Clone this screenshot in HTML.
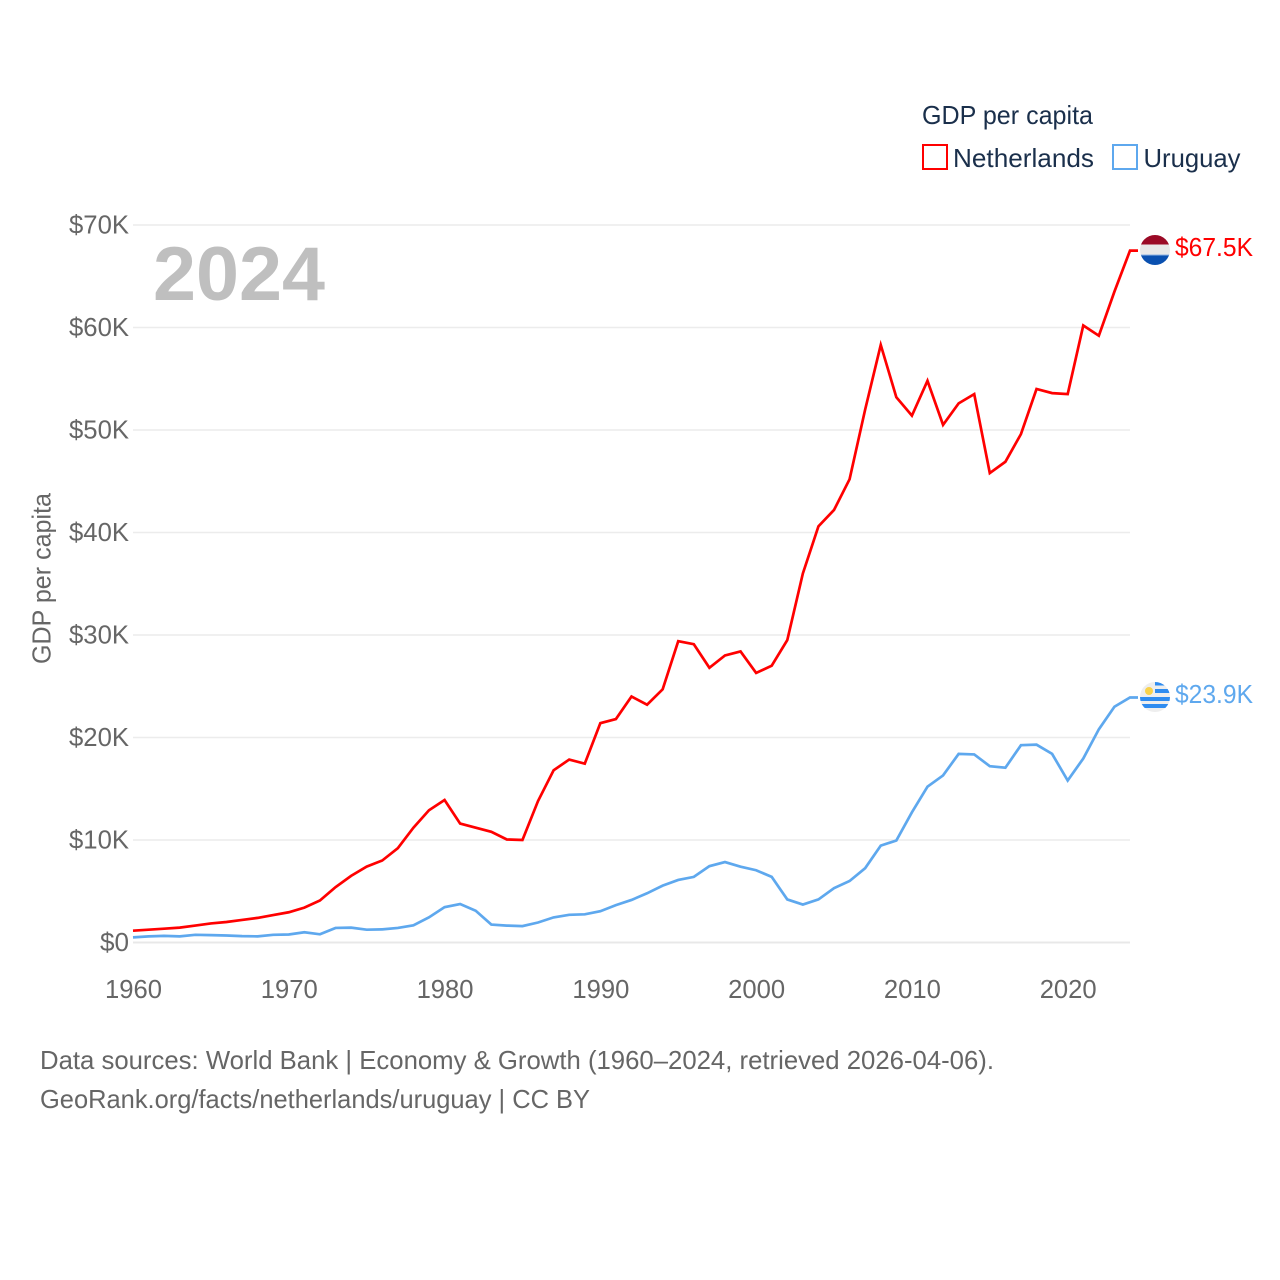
<!DOCTYPE html>
<html lang="en">
<head>
<meta charset="utf-8">
<title>GDP per capita: Netherlands vs Uruguay</title>
<style>
html,body{margin:0;padding:0;background:#fff;}
svg{display:block;font-family:"Liberation Sans",sans-serif;}
</style>
</head>
<body>
<svg id="chart" xmlns="http://www.w3.org/2000/svg" width="1280" height="1280" viewBox="0 0 1280 1280">
  <rect width="1280" height="1280" fill="#fff"/>
  <defs>
    <clipPath id="clip-nl"><circle cx="1155" cy="250" r="15"/></clipPath>
    <clipPath id="clip-uy"><circle cx="1155" cy="697" r="15"/></clipPath>
  </defs>

  <text x="922" y="124" font-size="26" fill="#1a2f4b" textLength="171" lengthAdjust="spacingAndGlyphs">GDP per capita</text>
  <g>
    <rect x="923" y="145" width="24" height="24" fill="#fff" stroke="#ff0000" stroke-width="2"/>
    <text x="953" y="167" font-size="26" fill="#1a2f4b" textLength="141" lengthAdjust="spacingAndGlyphs">Netherlands</text>
  </g>
  <g>
    <rect x="1113" y="145" width="24" height="24" fill="#fff" stroke="#5ea8ee" stroke-width="2"/>
    <text x="1143.5" y="167" font-size="26" fill="#1a2f4b" textLength="97" lengthAdjust="spacingAndGlyphs">Uruguay</text>
  </g>

  <g id="grid"></g>
  <g id="yticks"></g>
  <g id="xticks"></g>

  <text transform="translate(50.5,578.5) rotate(-90)" text-anchor="middle" font-size="26" fill="#666" textLength="171" lengthAdjust="spacingAndGlyphs">GDP per capita</text>
  <text x="153" y="300" font-size="76" font-weight="700" fill="#bfbfbf" textLength="172" lengthAdjust="spacingAndGlyphs">2024</text>

  <g id="series"></g>

  <g clip-path="url(#clip-nl)">
    <rect x="1140" y="235" width="30" height="9.5" fill="#9b0a26"/>
    <rect x="1140" y="244.5" width="30" height="10" fill="#e8e8e8"/>
    <rect x="1140" y="254.5" width="30" height="1" fill="#8fb4e4"/>
    <rect x="1140" y="255.5" width="30" height="10" fill="#0a50b0"/>
  </g>
  <text id="label-nl" x="1175" y="256" font-size="26" fill="#ff0000" textLength="78" lengthAdjust="spacingAndGlyphs">$67.5K</text>

  <g clip-path="url(#clip-uy)">
    <rect x="1140" y="682" width="30" height="30" fill="#eeeeee"/>
    <rect x="1155" y="682" width="15" height="3.5" fill="#2f8cf0"/>
    <rect x="1155" y="689" width="15" height="4" fill="#2f8cf0"/>
    <rect x="1140" y="697" width="30" height="4" fill="#2f8cf0"/>
    <rect x="1140" y="704" width="30" height="4" fill="#2f8cf0"/>
    <circle cx="1149" cy="691" r="4" fill="#f9d24a"/>
  </g>
  <text id="label-uy" x="1175" y="703" font-size="26" fill="#5ea8ee" textLength="78" lengthAdjust="spacingAndGlyphs">$23.9K</text>

  <text x="40" y="1069" font-size="26" fill="#666" textLength="954" lengthAdjust="spacingAndGlyphs">Data sources: World Bank | Economy &amp; Growth (1960–2024, retrieved 2026-04-06).</text>
  <text x="40" y="1108" font-size="26" fill="#666" textLength="550" lengthAdjust="spacingAndGlyphs">GeoRank.org/facts/netherlands/uruguay | CC BY</text>
</svg>
<script>
const startYear = 1960;
const endYear = 2024;
const yTickValues = [0, 10, 20, 30, 40, 50, 60, 70];
const yTickLabels = ["$0", "$10K", "$20K", "$30K", "$40K", "$50K", "$60K", "$70K"];
const xTickValues = [1960, 1970, 1980, 1990, 2000, 2010, 2020];
const netherlandsValues = [1.15,1.25,1.35,1.45,1.65,1.86,2.0,2.2,2.4,2.68,2.95,3.4,4.1,5.4,6.5,7.4,8.0,9.2,11.2,12.9,13.9,11.6,11.2,10.8,10.05,10.0,13.8,16.8,17.85,17.45,21.4,21.8,24.0,23.2,24.7,29.4,29.1,26.8,28.0,28.4,26.3,27.0,29.5,36.0,40.6,42.2,45.2,52.0,58.3,53.2,51.4,54.8,50.5,52.6,53.5,45.8,46.9,49.6,54.0,53.6,53.5,60.2,59.2,63.5,67.5];
const uruguayValues = [0.5,0.6,0.65,0.6,0.75,0.72,0.68,0.62,0.6,0.75,0.78,1.0,0.8,1.42,1.45,1.25,1.28,1.42,1.68,2.45,3.45,3.75,3.1,1.75,1.65,1.6,1.95,2.45,2.7,2.75,3.05,3.65,4.15,4.8,5.55,6.1,6.4,7.45,7.85,7.4,7.05,6.4,4.2,3.7,4.2,5.3,6.0,7.25,9.45,9.95,12.7,15.2,16.3,18.4,18.35,17.2,17.05,19.25,19.3,18.4,15.8,17.95,20.8,23.0,23.9];

const SVG_NS = "http://www.w3.org/2000/svg";
const plotLeft = 133, plotRight = 1130, plotBottom = 942.5, plotTop = 225;
const yMax = 70;

function xScale(year) {
  return plotLeft + (year - startYear) / (endYear - startYear) * (plotRight - plotLeft);
}
function yScale(value) {
  return plotBottom - value / yMax * (plotBottom - plotTop);
}
function make(tag, attrs, parent) {
  const el = document.createElementNS(SVG_NS, tag);
  for (const key in attrs) el.setAttribute(key, attrs[key]);
  parent.appendChild(el);
  return el;
}

const gridGroup = document.getElementById("grid");
const yGroup = document.getElementById("yticks");
const xGroup = document.getElementById("xticks");
const seriesGroup = document.getElementById("series");

yTickValues.forEach(function (v, i) {
  const y = yScale(v);
  const line = make("line", { x1: plotLeft, x2: plotRight, y1: y, y2: y, stroke: v === 0 ? "#e8e8e8" : "#ececec", "stroke-width": v === 0 ? 2 : 1.5 }, gridGroup);
  
  
  const label = yTickLabels[i];
  const text = make("text", { x: 129, y: y + 8.5, "text-anchor": "end", "font-size": 26, fill: "#666", textLength: label.length === 2 ? 29 : 60, lengthAdjust: "spacingAndGlyphs" }, yGroup);
  text.textContent = label;
  
  
});

xTickValues.forEach(function (year) {
  const text = make("text", { x: xScale(year) + 0.5, y: 998, "text-anchor": "middle", "font-size": 26, fill: "#666", textLength: 57, lengthAdjust: "spacingAndGlyphs" }, xGroup);
  text.textContent = String(year);
  
  
});

function drawSeries(values, color, seriesName) {
  const pts = values.map(function (v, i) {
    return xScale(startYear + i).toFixed(2) + "," + yScale(v).toFixed(2);
  });
  const lastY = yScale(values[values.length - 1]);
  pts.push("1138," + lastY.toFixed(2));
  const line = make("polyline", { points: pts.join(" "), fill: "none", stroke: color, "stroke-width": 2.7, "stroke-linejoin": "miter" }, seriesGroup);
  
  
}
drawSeries(netherlandsValues, "#ff0000", "netherlands-line");
drawSeries(uruguayValues, "#5ea8ee", "uruguay-line");
</script>
</body>
</html>
